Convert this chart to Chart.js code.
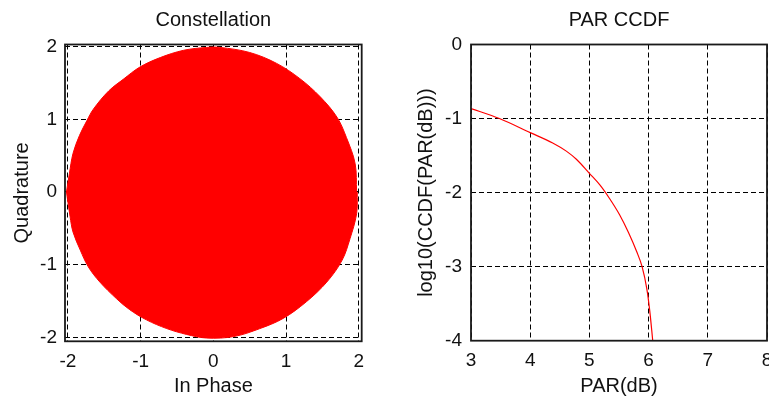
<!DOCTYPE html>
<html>
<head>
<meta charset="utf-8">
<script src="https://cdn.jsdelivr.net/npm/chart.js@4.4.1/dist/chart.umd.min.js"></script>
<style>
  body { margin: 0; background: #fff; }
  #wrap { position: relative; width: 769px; height: 398px; overflow: hidden; }
  #constCanvas { position: absolute; left: 0; top: 0; }
  #ccdfCanvas { position: absolute; left: 380px; top: 0; }
</style>
</head>
<body>
<div id="wrap">
  <canvas id="constCanvas" width="385" height="398"></canvas>
  <canvas id="ccdfCanvas" width="389" height="398"></canvas>
</div>
<script>
// constellation cloud outline (upper half / lower half)
const upperI = [-2.02, -1.98, -1.93, -1.84, -1.74, -1.65, -1.44, -1.24, -1.01, -0.73, -0.41, -0.09, 0.09, 0.50, 0.87, 1.19, 1.47, 1.70, 1.83, 1.95, 1.97];
const upperQ = [0, 0.25, 0.53, 0.78, 0.98, 1.14, 1.39, 1.55, 1.72, 1.85, 1.95, 1.99, 1.99, 1.92, 1.77, 1.56, 1.31, 1.03, 0.75, 0.39, 0];
const lowerI = [-2.02, -1.97, -1.93, -1.83, -1.72, -1.56, -1.33, -1.15, -0.92, -0.64, -0.37, -0.09, 0.28, 0.64, 0.96, 1.28, 1.56, 1.77, 1.88, 1.97, 1.98];
const lowerQ = [0, -0.34, -0.55, -0.80, -1.03, -1.24, -1.47, -1.62, -1.76, -1.88, -1.96, -2.01, -1.99, -1.88, -1.74, -1.51, -1.24, -0.94, -0.64, -0.30, 0];
const constTicks = [-2, -1, 0, 1, 2];

// PAR CCDF curve
const parDb = [3.0, 3.48, 4.0, 4.38, 4.61, 4.78, 5.0, 5.18, 5.34, 5.51, 5.66, 5.8, 5.89, 5.97, 6.02, 6.07];
const logCcdf = [-0.865, -1.0, -1.19, -1.33, -1.44, -1.55, -1.74, -1.9, -2.08, -2.3, -2.54, -2.8, -3.0, -3.3, -3.6, -4.0];
const parTicks = [3, 4, 5, 6, 7, 8];
const ccdfTicks = [-4, -3, -2, -1, 0];

const FONT = "'Liberation Sans', Arial, sans-serif";

const framePlugin = {
  id: 'frame',
  afterDatasetsDraw(chart) {
    const { ctx, chartArea: a } = chart;
    ctx.save();
    ctx.strokeStyle = '#1a1a1a';
    ctx.lineWidth = 1.8;
    ctx.strokeRect(a.left, a.top, a.right - a.left, a.bottom - a.top);
    ctx.restore();
  }
};

function toPoints(xs, ys) {
  return xs.map((x, i) => ({ x, y: ys[i] }));
}

function axis(opts) {
  const horiz = opts.pos === 'bottom';
  return {
    type: 'linear',
    position: opts.pos,
    min: opts.min,
    max: opts.max,
    afterBuildTicks: s => { s.ticks = opts.ticks.map(v => ({ value: v })); },
    afterFit: s => {
      if (horiz) { s.height = opts.size; s.paddingLeft = 0; s.paddingRight = 0; }
      else { s.width = opts.size; s.paddingTop = 0; s.paddingBottom = 0; }
    },
    grid: { color: '#000', lineWidth: 1, drawTicks: false },
    border: { display: false, dash: [5, 3] },
    ticks: { color: '#111', font: { family: FONT, size: 19 }, padding: opts.pad, callback: v => String(v) },
    title: { display: true, text: opts.title, color: '#111', font: { family: FONT, size: 20 }, padding: 0 }
  };
}

function baseOptions(title, padLeft, padRight) {
  return {
    responsive: false,
    animation: false,
    layout: { padding: { left: padLeft, right: padRight, top: 0, bottom: 0 } },
    plugins: {
      legend: { display: false },
      tooltip: { enabled: false },
      title: { display: true, text: title, color: '#111', fullSize: false, font: { family: FONT, size: 20, weight: 'normal' }, padding: { top: 8, bottom: 12.5 } }
    }
  };
}

function initConstellation() {
  const ctx = document.getElementById('constCanvas').getContext('2d');
  const opts = baseOptions('Constellation', 10, 23.3);
  opts.scales = {
    x: axis({ pos: 'bottom', min: -2.04, max: 2.04, ticks: constTicks, size: 56.7, pad: 9, title: 'In Phase' }),
    y: axis({ pos: 'left', min: -2.055, max: 2.03, ticks: constTicks, size: 55, pad: 8, title: 'Quadrature' })
  };
  const style = { showLine: true, fill: 'origin', backgroundColor: '#ff0000', borderColor: '#ff0000', borderWidth: 1, pointRadius: 0, tension: 0.35 };
  new Chart(ctx, {
    type: 'scatter',
    data: { datasets: [
      { ...style, data: toPoints(upperI, upperQ) },
      { ...style, data: toPoints(lowerI, lowerQ) }
    ] },
    options: opts,
    plugins: [framePlugin]
  });
}

function initCcdf() {
  const ctx = document.getElementById('ccdfCanvas').getContext('2d');
  const opts = baseOptions('PAR CCDF', 34, 2);
  opts.scales = {
    x: axis({ pos: 'bottom', min: 3, max: 8, ticks: parTicks, size: 57.3, pad: 9, title: 'PAR(dB)' }),
    y: axis({ pos: 'left', min: -4, max: 0, ticks: ccdfTicks, size: 57, pad: 9, title: 'log10(CCDF(PAR(dB)))' })
  };
  new Chart(ctx, {
    type: 'scatter',
    data: { datasets: [
      { data: toPoints(parDb, logCcdf), showLine: true, fill: false, borderColor: '#ff0000', borderWidth: 1.2, pointRadius: 0, cubicInterpolationMode: 'monotone' }
    ] },
    options: opts,
    plugins: [framePlugin]
  });
}

initConstellation();
initCcdf();
</script>
</body>
</html>
